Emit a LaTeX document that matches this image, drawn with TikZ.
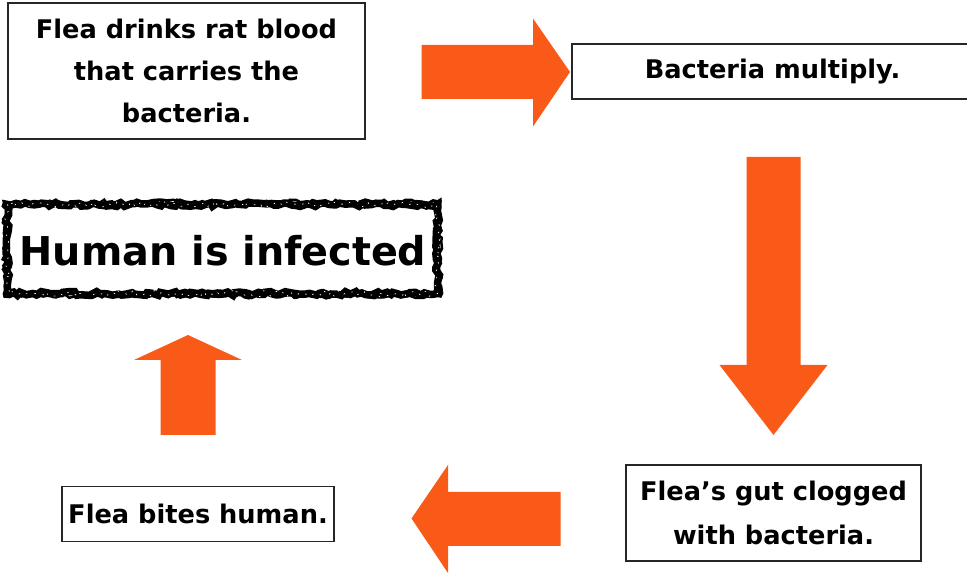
\documentclass[tikz,border=0pt]{standalone}
\usepackage{fontspec}
\setmainfont{DejaVu Sans}
\usetikzlibrary{decorations.pathmorphing}
\definecolor{fleaorange}{RGB}{249,90,23}
\tikzset{
  card/.style={draw=black!85, line width=1.1pt, fill=white, align=center, inner sep=0pt,
    font=\fontsize{14.6}{23.8}\selectfont\bfseries},
  blockarrow/.style={fill=fleaorange, draw=none},
  roughline/.style={decorate, decoration={random steps, segment length=2.5pt, amplitude=1.1pt}},
}
\begin{document}
\begin{tikzpicture}[x=0.02cm,y=-0.02cm]
  \useasboundingbox (0,0) rectangle (967,573);
  % steps of the cycle
  \node[card, minimum width=7.14cm, minimum height=2.72cm] (drink) at (186.5,71)
    {Flea drinks rat blood\\that carries the\\bacteria.};
  \node[card, minimum width=8.04cm, minimum height=1.1cm] (multiply) at (772.5,71.5)
    {Bacteria multiply.};
  \node[card, minimum width=5.9cm, minimum height=1.92cm,
    font=\fontsize{14.6}{25.5}\selectfont\bfseries] (clogged) at (773.5,513)
    {Flea’s gut clogged\\with bacteria.};
  \node[card, minimum width=5.45cm, minimum height=1.1cm] (bites) at (198,514)
    {Flea bites human.};
  % result
  \node[font=\fontsize{22.6}{26}\selectfont\bfseries] (human) at (223,251) {Human is infected};
  \draw[line width=0.15cm, roughline] (7.5,204.5) rectangle (437.5,293.5);
  \draw[line width=0.05cm, roughline] (4.5,201.5) rectangle (440.5,296.5);
  \draw[white, line width=0.4pt, dash pattern=on 0.8pt off 4pt,
    decorate, decoration={random steps, segment length=2pt, amplitude=1.8pt}]
    (7.5,204.5) rectangle (437.5,293.5);
  % block arrows
  \fill[blockarrow] (421.5,45) -- (533,45) -- (533,18.5) -- (570,72) -- (533,126.5)
    -- (533,99) -- (421.5,99) -- cycle;
  \fill[blockarrow] (746.5,157) -- (800.5,157) -- (800.5,365) -- (827.5,365)
    -- (773.5,435) -- (719.5,365) -- (746.5,365) -- cycle;
  \fill[blockarrow] (560.5,492) -- (448,492) -- (448,465) -- (411.5,518.5)
    -- (448,573) -- (448,546) -- (560.5,546) -- cycle;
  \fill[blockarrow] (160.5,435) -- (215.5,435) -- (215.5,360) -- (242,360)
    -- (188,335) -- (134,360) -- (160.5,360) -- cycle;
\end{tikzpicture}
\end{document}
